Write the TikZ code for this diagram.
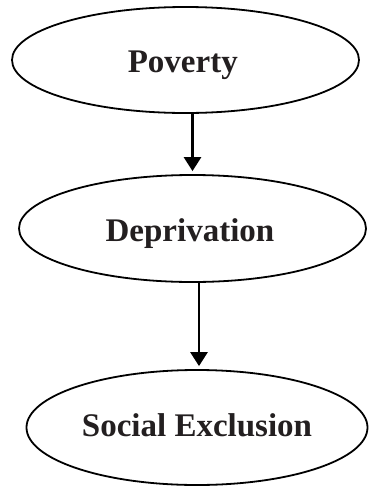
\documentclass[tikz,border=0pt]{standalone}
\usepackage{fontspec}
\setmainfont{Liberation Serif}
\usetikzlibrary{shapes.geometric,arrows.meta}
\definecolor{txt}{HTML}{231F20}
\begin{document}
\begin{tikzpicture}[x=1pt,y=-1pt,
  oval/.style={ellipse,draw=black,line width=1.8pt,inner sep=0pt},
  lbl/.style={anchor=base,inner sep=0pt,font=\bfseries\fontsize{33}{36}\selectfont,text=txt},
  arr/.style={line width=2.8pt,-{Triangle[length=14pt,width=17pt]},shorten >=3pt}]
\useasboundingbox (0,0) rectangle (369,488);
\node[oval,minimum width=347pt,minimum height=106pt] (pov) at (185.5,60) {};
\node[oval,minimum width=347pt,minimum height=107pt] (dep) at (192.5,228.5) {};
\node[oval,minimum width=341pt,minimum height=115pt] (soc) at (197,427.5) {};
\node[lbl] (povt) at (182.8,72.7) {Poverty};
\node[lbl] (dept) at (190,241.7) {Deprivation};
\node[lbl] (soct) at (197,436) {Social Exclusion};
\coordinate (a2) at (199,427.5);
\draw[arr] (pov.south -| dep.north) -- (dep.north);
\draw[arr] (dep.south -| a2) -- (soc.north -| a2);
\end{tikzpicture}
\end{document}
